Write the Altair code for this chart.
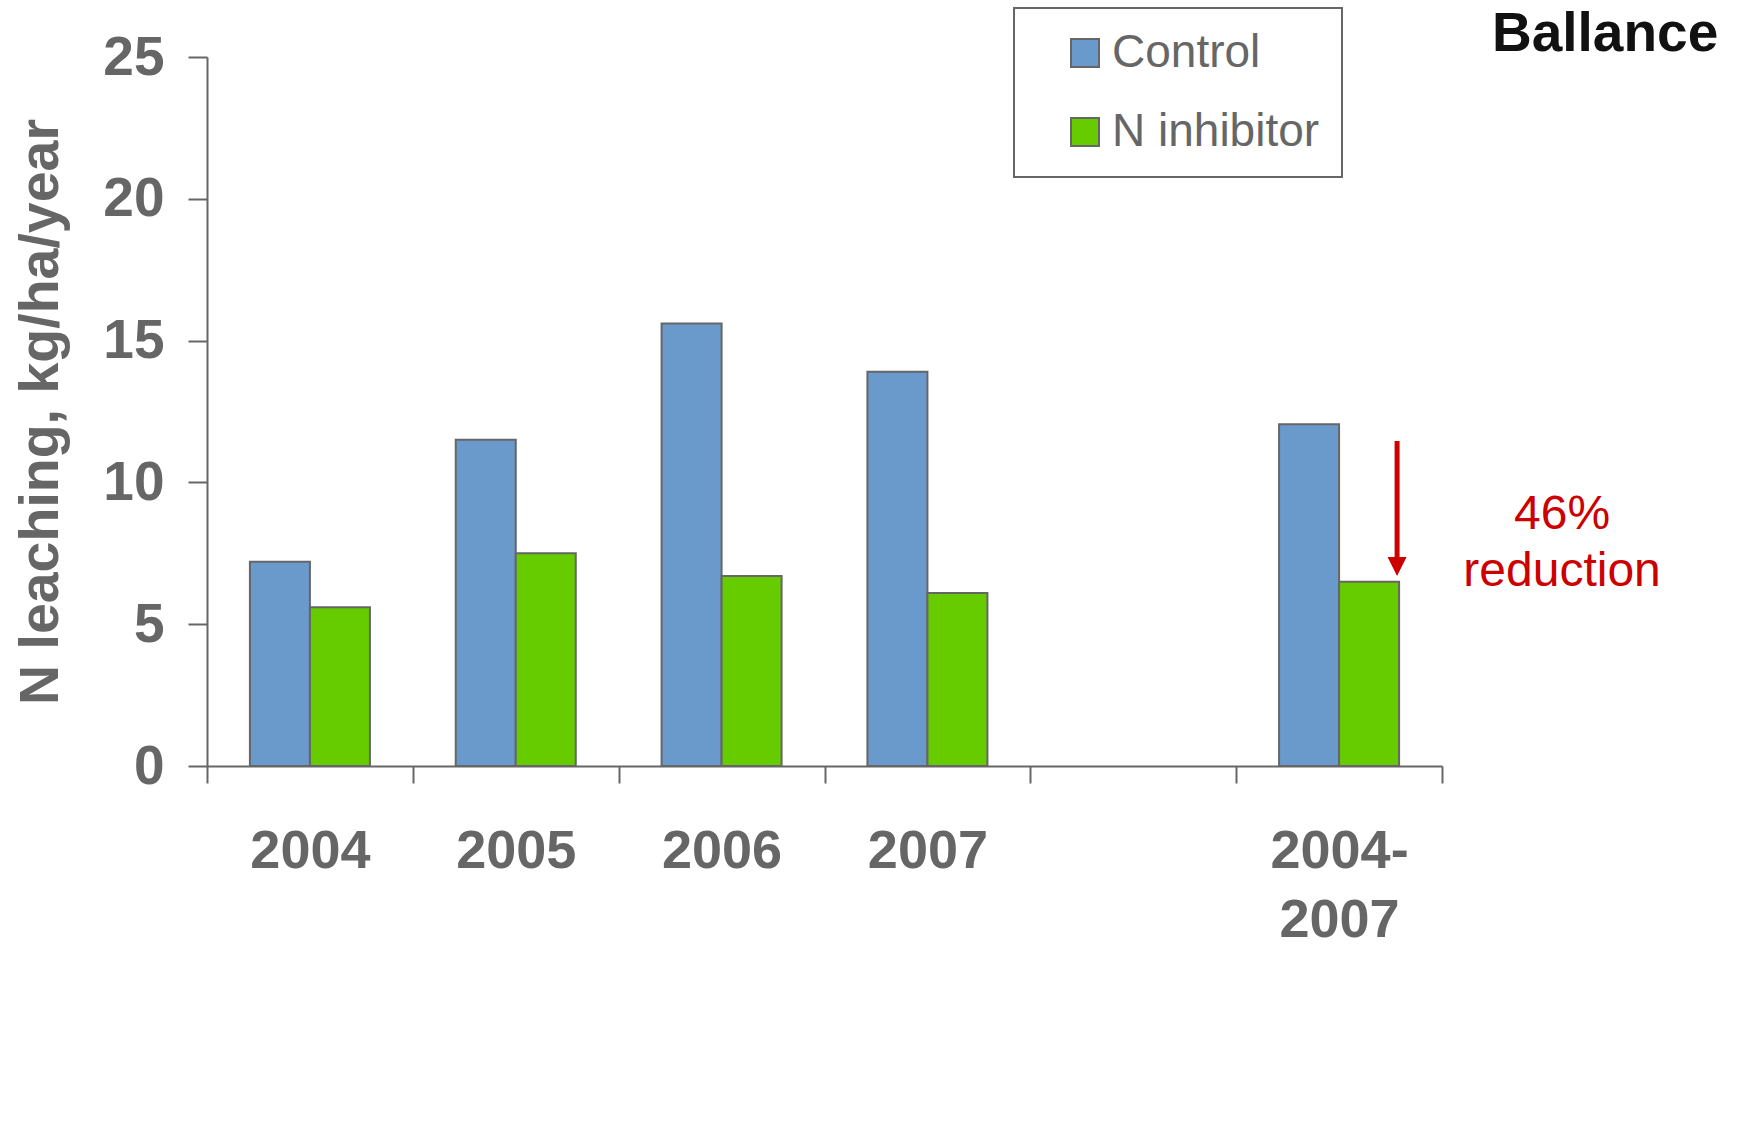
import altair as alt
import pandas as pd

# N leaching per year, control vs. nitrification inhibitor (kg N/ha/year)
periods = ["2004", "2005", "2006", "2007", "2004-2007"]
control = [7.2, 11.5, 15.6, 13.9, 12.05]
inhibitor = [5.6, 7.5, 6.7, 6.1, 6.5]
series = ["Control", "N inhibitor"]
series_colors = ["#6A99CC", "#66CC00"]

# x slots, with an empty slot before the multi-year mean
slot_order = ["2004", "2005", "2006", "2007", "gap", "2004-2007"]
y_ticks = [0, 5, 10, 15, 20, 25]

# reduction arrow on the 2004-2007 group (data units)
arrow_top = 11.46
arrow_head = 7.3
arrow_tip = 6.7
note_y = 8.85

FONT = "Liberation Sans"
GREY = "#666666"
RED = "#CC0000"

rows = []
for p, c, n in zip(periods, control, inhibitor):
    rows.append({"period": p, "series": series[0], "value": c})
    rows.append({"period": p, "series": series[1], "value": n})
df = pd.DataFrame(rows)

reduction = round((1 - inhibitor[-1] / control[-1]) * 100)

x_scale = alt.Scale(domain=slot_order, paddingInner=0, paddingOuter=0)

bars = alt.Chart(df).mark_bar(stroke=GREY, strokeWidth=2).encode(
    x=alt.X(
        "period:N",
        scale=x_scale,
        title=None,
        axis=alt.Axis(
            tickBand="extent",
            labelAngle=0,
            labelFont=FONT,
            labelFontSize=54,
            labelFontWeight="bold",
            labelColor=GREY,
            labelPadding=41,
            labelLineHeight=69,
            labelExpr="datum.value == 'gap' ? '' : (datum.value == '2004-2007' ? ['2004-', '2007'] : datum.label)",
            tickSize=17,
            tickWidth=2,
            tickColor=GREY,
            domainColor=GREY,
            domainWidth=2,
        ),
    ),
    xOffset=alt.XOffset(
        "series:N",
        scale=alt.Scale(domain=series, paddingInner=0, paddingOuter=0.715),
    ),
    y=alt.Y(
        "value:Q",
        scale=alt.Scale(domain=[0, 25], nice=False),
        title="N leaching, kg/ha/year",
        axis=alt.Axis(
            values=y_ticks,
            grid=False,
            labelFont=FONT,
            labelFontSize=55,
            labelFontWeight="bold",
            labelColor=GREY,
            labelPadding=24,
            tickSize=19,
            tickWidth=2,
            tickColor=GREY,
            domainColor=GREY,
            domainWidth=2,
            titleFont=FONT,
            titleFontSize=55.5,
            titleFontWeight="bold",
            titleColor=GREY,
            titleAngle=270,
            titleAlign="center",
            titleBaseline="alphabetic",
            titleX=-150,
            titleY=354.5,
        ),
    ),
    color=alt.Color(
        "series:N",
        scale=alt.Scale(domain=series, range=series_colors),
        legend=alt.Legend(
            title=None,
            orient="none",
            legendX=807,
            legendY=-49,
            direction="vertical",
            symbolType="square",
            symbolSize=784,
            symbolStrokeColor=GREY,
            symbolStrokeWidth=2,
            symbolOffset=26,
            labelFont=FONT,
            labelFontSize=46,
            labelColor=GREY,
            labelOffset=4,
            labelLimit=500,
            padding=22,
            rowPadding=33,
            strokeColor=GREY,
            fillColor="white",
        ),
    ),
)

arrow_df = pd.DataFrame(
    {"period": ["2004-2007"], "top": [arrow_top], "head": [arrow_head], "tip": [arrow_tip]}
)

shaft = alt.Chart(arrow_df).mark_rule(color=RED, strokeWidth=5, xOffset=58).encode(
    x=alt.X("period:N", scale=x_scale),
    y=alt.Y("top:Q"),
    y2="head:Q",
)

head = alt.Chart(arrow_df).mark_point(
    shape="M-1,-2L1,-2L0,0Z", filled=True, color=RED, opacity=1, size=360, xOffset=58
).encode(
    x=alt.X("period:N", scale=x_scale),
    y=alt.Y("tip:Q"),
)

note_df = pd.DataFrame(
    {"period": ["2004-2007"], "y": [note_y], "text": [f"{reduction}%\nreduction"]}
)
note = alt.Chart(note_df).mark_text(
    font=FONT, fontSize=48, color=RED, lineBreak="\n", lineHeight=57,
    align="center", baseline="middle", dx=223,
).encode(
    x=alt.X("period:N", scale=x_scale),
    y=alt.Y("y:Q"),
    text="text:N",
)

logo = alt.Chart(pd.DataFrame({"t": ["Ballance"]})).mark_text(
    font=FONT, fontSize=55, fontWeight="bold", color="#111111",
    align="left", baseline="alphabetic",
).encode(
    x=alt.value(1285),
    y=alt.value(-6),
    text="t:N",
)

chart = (
    alt.layer(bars, shaft, head, note, logo)
    .properties(
        width=1235,
        height=709,
        autosize=alt.AutoSizeParams(type="none"),
        padding={"left": 207, "top": 57, "right": 313, "bottom": 362},
        background="white",
    )
    .configure_view(stroke=None)
    .configure_legend(strokeWidth=2)
)

chart.save("out.html", embed_options={"renderer": "svg", "actions": False})
